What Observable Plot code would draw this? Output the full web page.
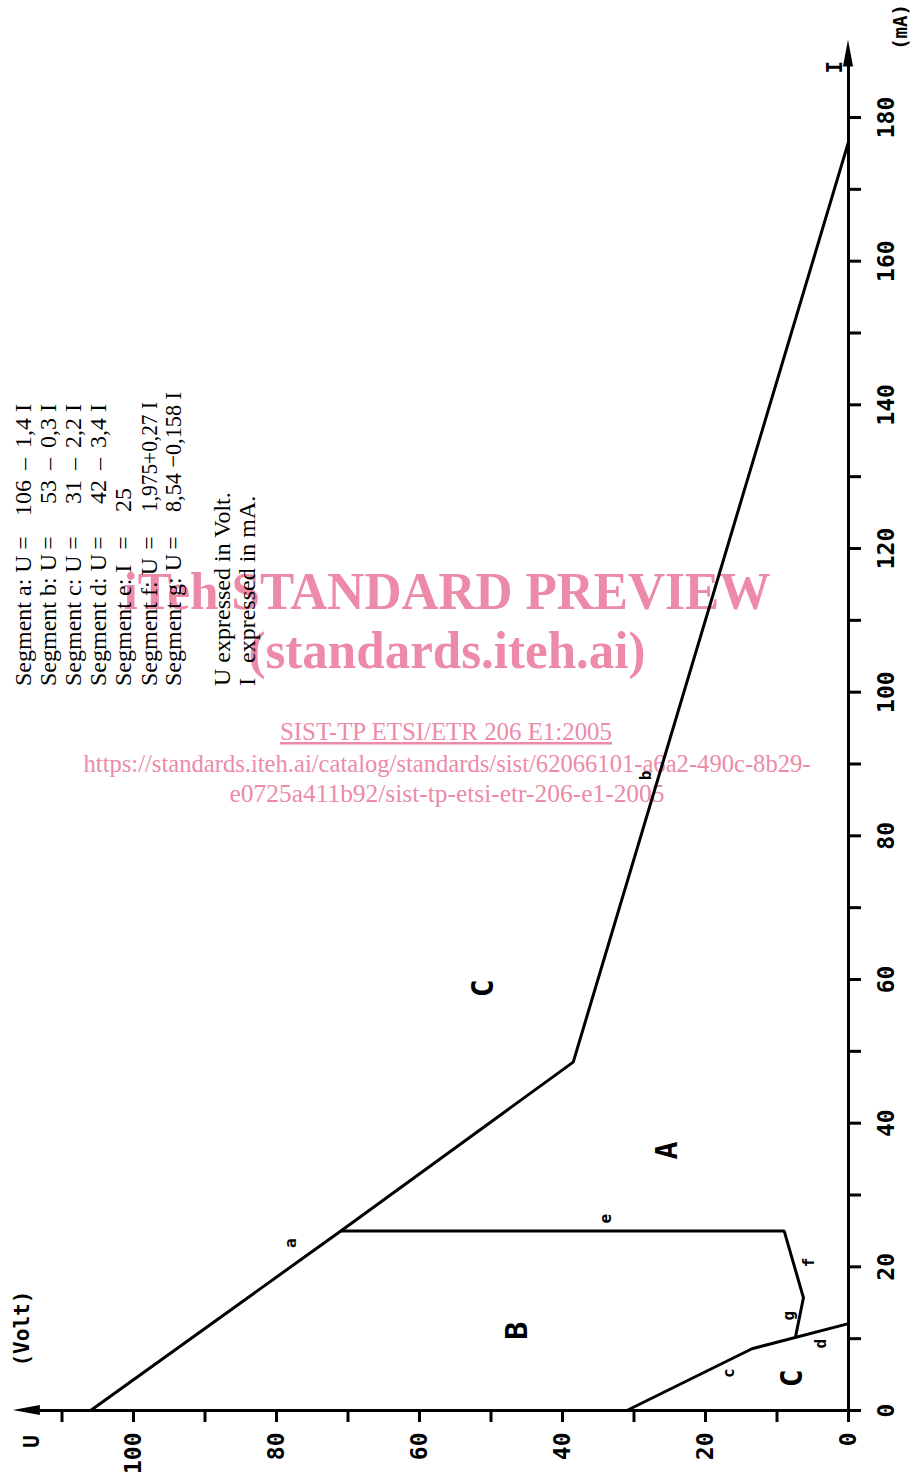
<!DOCTYPE html>
<html><head><meta charset="utf-8">
<script src="https://cdn.jsdelivr.net/npm/d3@7"></script>
<script src="https://cdn.jsdelivr.net/npm/@observablehq/plot@0.6"></script>
<style>
body{margin:0;background:#fff}
#chart{position:relative;width:912px;height:1479px;overflow:hidden}
</style>
</head><body><div id="chart"></div>
<script>
// ---- data ----
const uTicks = [0,10,20,30,40,50,60,70,80,90,100,110];
const uTickLabels = [0,20,40,60,80,100];
const iTicks = [0,10,20,30,40,50,60,70,80,90,100,110,120,130,140,150,160,170,180];
const iTickLabels = [0,20,40,60,80,100,120,140,160,180];
const uAxisEnd = 116.8;   // volt, arrow tip
const iAxisEnd = 190.8;   // mA, arrow tip

// boundary polylines (U in volt, I in mA)
const boundaryAB  = [{u:106,i:0},{u:71,i:25},{u:38.5,i:48.5},{u:0,i:176.6}];
const boundaryEFG = [{u:71,i:25},{u:9,i:25},{u:6.3,i:15.7},{u:7.4,i:10.3}];
const boundaryCD  = [{u:31,i:0},{u:13.5,i:8.6},{u:0,i:12.1}];

// region and segment labels
const regionNames = ["C","A","B","C"];
const regionU = [51,25.3,46.3,7.8];
const regionI = [58.8,36.2,11.1,4.5];
const segNames = ["a","b","c","d","e","f","g"];
const segU = [78,28.4,16.8,3.9,34,5.6,8.4];
const segI = [23.3,88.4,5.2,9.3,26.7,20.6,13.2];

// equation block
const eqLabels = ["Segment a: U","Segment b: U","Segment c: U","Segment d: U","Segment e: I","Segment f: U","Segment g: U"];
const eqConsts = ["106","53","31","42","25","1,975+0,27 I","8,54 \u22120,158 I"];
const eqDashes = ["\u2013","\u2013","\u2013","\u2013","","",""];
const eqSlopes = ["1,4 I","0,3 I","2,2 I","3,4 I","","",""];
const unitNotes = ["U expressed in Volt.","expressed in mA."];

const watermark = ["iTeh STANDARD PREVIEW","(standards.iteh.ai)","SIST-TP ETSI/ETR 206 E1:2005",
  "https://standards.iteh.ai/catalog/standards/sist/62066101-a6a2-490c-8b29-",
  "e0725a411b92/sist-tp-etsi-etr-206-e1-2005"];

const regions = regionNames.map((t,k)=>({t,u:regionU[k],i:regionI[k]}));
const segs = segNames.map((t,k)=>({t,u:segU[k],i:segI[k]}));

const mono = "'DejaVu Sans Mono', monospace";
const lineStyle = {x:"u", y:"i", stroke:"black", strokeWidth:3, strokeLinejoin:"miter", strokeLinecap:"butt"};

const plot = Plot.plot({
  width: 912, height: 1479,
  marginTop: 0, marginLeft: 0, marginRight: 64, marginBottom: 69,
  x: {domain:[0,100], range:[848,133], label:null},
  y: {domain:[0,180], range:[1410,117], label:null},
  style: {background:"transparent"},
  marks: [
    Plot.ruleY([0], {x1: -1.4, x2: uAxisEnd - 2, stroke:"black", strokeWidth:3}),
    Plot.ruleX([0], {y1: -1.4, y2: iAxisEnd - 2, stroke:"black", strokeWidth:3}),
    Plot.axisX(uTicks, {anchor:"bottom", tickSize:12, tickFormat:()=>"", label:null, strokeWidth:3, stroke:"black"}),
    Plot.axisY(iTicks, {anchor:"right", tickSize:12, tickFormat:()=>"", label:null, strokeWidth:3, stroke:"black"}),
    Plot.text(uTickLabels, {x:d=>d, y:0, text:d=>String(d), rotate:-90, textAnchor:"end", dy:22,
      fontFamily:mono, fontWeight:"bold", fontSize:23, fill:"black"}),
    Plot.text(iTickLabels, {x:0, y:d=>d, text:d=>String(d), rotate:-90, textAnchor:"middle", dx:38,
      fontFamily:mono, fontWeight:"bold", fontSize:23, fill:"black"}),
    Plot.text(["U"], {x:uAxisEnd - 2.6, y:0, text:d=>d, rotate:-90, dy:31, fontFamily:mono, fontWeight:"bold", fontSize:21}),
    Plot.text(["(Volt)"], {x:uAxisEnd - 1.2, y:11.4, text:d=>d, rotate:-90, fontFamily:mono, fontWeight:"bold", fontSize:21}),
    Plot.text(["I"], {x:0, y:iAxisEnd - 3.8, text:d=>d, rotate:-90, dx:-13, fontFamily:mono, fontWeight:"bold", fontSize:21}),
    Plot.text(["(mA)"], {x:0, y:iAxisEnd + 1.8, text:d=>d, rotate:-90, dx:52, fontFamily:mono, fontWeight:"bold", fontSize:19}),
    Plot.line(boundaryAB, lineStyle),
    Plot.line(boundaryEFG, lineStyle),
    Plot.line(boundaryCD, lineStyle),
    Plot.text(regions, {x:"u", y:"i", text:"t", rotate:-90, fontFamily:mono, fontWeight:"bold", fontSize:30, fill:"black"}),
    Plot.text(segs, {x:"u", y:"i", text:"t", rotate:-90, fontFamily:mono, fontWeight:"bold", fontSize:16, fill:"black"})
  ]
});

const chart = document.getElementById("chart");
chart.appendChild(plot);
const svg = d3.select(plot);
const xs = plot.scale("x"), ys = plot.scale("y");

// arrow heads on the axes
const ax = xs.apply(uAxisEnd), ay = ys.apply(0);
svg.append("path").attr("d", `M${ax},${ay} L${ax+27},${ay-5} L${ax+27},${ay+5} Z`).attr("fill","black");
const bx = xs.apply(0), by = ys.apply(iAxisEnd);
svg.append("path").attr("d", `M${bx},${by} L${bx-5},${by+27} L${bx+5},${by+27} Z`).attr("fill","black");

// equation block (rotated annotation)
const serif = "'Liberation Serif', 'Times New Roman', serif";
const ann = svg.append("g").attr("font-family", serif).attr("font-size", 24).attr("fill","black");
const lineX = [23,48,73,98,123,149,173];
function rtext(x, y, s, anchor, len){
  const t = ann.append("text").attr("transform", `translate(${x},${y}) rotate(-90)`)
    .attr("text-anchor", anchor).attr("dominant-baseline","central").text(s);
  if (len) t.attr("textLength", len).attr("lengthAdjust","spacingAndGlyphs");
}
const constLen = [0,0,0,0,0,110,120];
eqLabels.forEach((s,k)=>{
  const x = lineX[k];
  rtext(x, 686, s, "start");
  rtext(x, 543, "=", "middle");
  if (eqSlopes[k]) {
    rtext(x, 480, eqConsts[k], "end");
    rtext(x, 464, eqDashes[k], "middle");
    rtext(x, 448, eqSlopes[k], "start");
  } else {
    rtext(x, 512, eqConsts[k], "start", constLen[k]);
  }
});
rtext(222, 686, unitNotes[0], "start");
rtext(247, 686, "I", "start");
rtext(247, 663, unitNotes[1], "start");

// watermark, placed beneath everything
const pink = "#ec8aa8";
const wm = svg.insert("g", ":first-child").attr("fill", pink).attr("font-family", serif).attr("text-anchor","middle");
const wmX = [447,447,446,447,447], wmY = [609,668,740,772,802], wmSize=[52,52,25,25,25], wmW=[647,397,332,727,435], wmBold=[1,1,0,0,0];
watermark.forEach((s,k)=>{
  wm.append("text").attr("x", wmX[k]).attr("y", wmY[k]).attr("font-size", wmSize[k])
    .attr("font-weight", wmBold[k] ? "bold" : "normal")
    .attr("textLength", wmW[k]).attr("lengthAdjust","spacingAndGlyphs")
    .attr("text-decoration", k===2 ? "underline" : null).text(s);
});
</script>
</body></html>
